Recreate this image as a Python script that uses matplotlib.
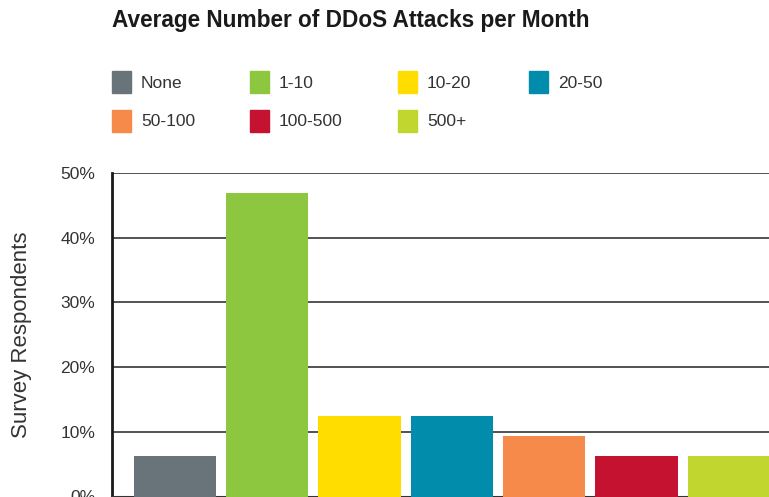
import matplotlib
matplotlib.use("Agg")
import matplotlib.pyplot as plt
from matplotlib.patches import Rectangle

plt.rcParams['font.family'] = ['Liberation Sans', 'DejaVu Sans']

# --- DATA ---
categories = ["None", "1-10", "10-20", "20-50", "50-100", "100-500", "500+"]
values = [6.25, 46.9, 12.5, 12.5, 9.4, 6.25, 6.25]
colors = ["#68737a", "#8dc63f", "#ffdd00", "#008caa", "#f58a4b", "#c41230", "#c1d72f"]
y_ticks = [0, 10, 20, 30, 40, 50]
y_labels = ["0%", "10%", "20%", "30%", "40%", "50%"]

W, H = 769, 497
fig = plt.figure(figsize=(W / 100, H / 100), dpi=100)

# axes runs off the right and bottom edge like the cropped original
ax = fig.add_axes([112 / W, 0.5 / H, 1 - 112 / W, 323.5 / H])
x = list(range(len(categories)))
ax.bar(x, values, width=0.89, color=colors, zorder=3)
ax.set_xlim(-0.68, 6.435)
ax.set_ylim(0, 50)
ax.set_yticks(y_ticks)
ax.set_yticklabels(y_labels, fontsize=12.5, color="#333333")
ax.tick_params(axis="y", length=0, pad=12)
ax.set_xticks([])
ax.yaxis.grid(True, color="#444444", linewidth=1.3, zorder=0)
ax.set_axisbelow(True)
for s in ["top", "right"]:
    ax.spines[s].set_visible(False)
ax.spines["left"].set_color("#1a1a1a")
ax.spines["left"].set_linewidth(2)
ax.spines["bottom"].set_color("#333333")
ax.spines["bottom"].set_linewidth(1.5)

fig.text(22 / W, 1 - 335 / H, "Survey Respondents", rotation=90, fontsize=16,
         color="#333333", ha="center", va="center")

fig.text(112 / W, 1 - 21 / H, "Average Number of DDoS Attacks per Month",
         fontsize=16.3, fontweight="bold", color="#1a1a1a", ha="left", va="center")

# --- LEGEND (manual placement, two rows) ---
leg_pos = [(112, 82), (250, 82), (398, 82), (529, 82), (112, 121), (250, 121), (398, 121)]
for (px, py), lab, col in zip(leg_pos, categories, colors):
    fig.add_artist(Rectangle((px / W, 1 - (py + 11) / H), 19 / W, 22 / H,
                             transform=fig.transFigure, color=col))
    fig.text((px + 29) / W, 1 - (py + 1) / H, lab, fontsize=12.5, color="#333333",
             ha="left", va="center")

plt.savefig("out.png", dpi=100)
